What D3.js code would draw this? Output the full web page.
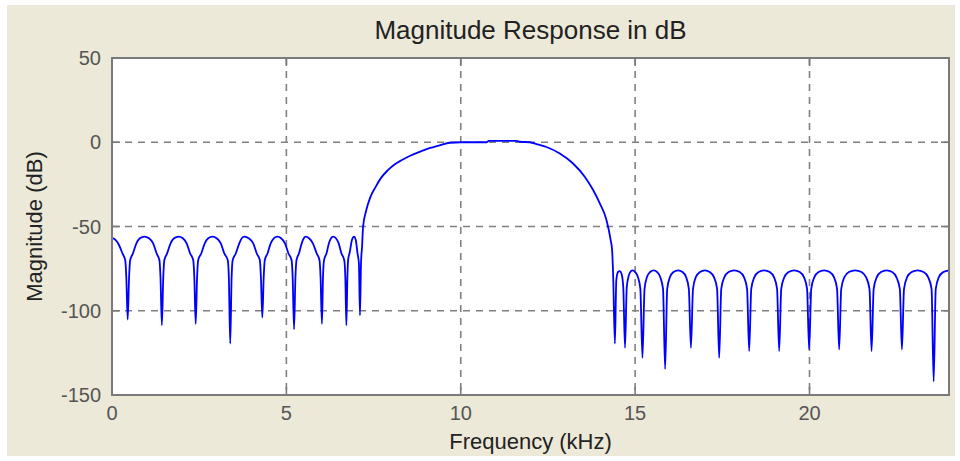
<!DOCTYPE html>
<html>
<head>
<meta charset="utf-8">
<script src="https://cdn.jsdelivr.net/npm/d3@7"></script>
<style>
body{margin:0;background:#fff;}
svg text{font-family:"Liberation Sans",Arial,sans-serif;}
</style>
</head>
<body>
<div id="root"></div>
<script>
// lower stopband (kHz, dB)
const lowFreq = [0.00,0.10,0.20,0.30,0.38,0.41,0.45,0.49,0.52,0.60,0.70,0.80,0.93,1.06,1.18,1.28,1.36,1.39,1.43,1.47,1.50,1.58,1.68,1.78,1.91,2.03,2.14,2.24,2.33,2.36,2.40,2.44,2.47,2.56,2.66,2.76,2.88,3.00,3.12,3.22,3.32,3.35,3.39,3.43,3.46,3.55,3.65,3.72,3.80,3.92,4.05,4.15,4.24,4.27,4.31,4.35,4.38,4.46,4.55,4.64,4.74,4.85,4.96,5.06,5.15,5.18,5.22,5.26,5.29,5.36,5.44,5.50,5.55,5.65,5.76,5.87,5.95,5.98,6.02,6.05,6.08,6.15,6.22,6.28,6.34,6.42,6.50,6.58,6.66,6.69,6.72,6.75,6.77,6.82,6.88,6.94,6.99,7.04,7.08,7.11,7.14];
const lowMag  = [-56.8,-58,-61,-66,-70,-80,-105.2,-80,-70,-66,-60,-57,-56,-57,-60,-66,-70,-80,-108.6,-80,-70,-66,-60,-57,-56,-57,-60,-66,-70,-80,-107.8,-80,-70,-66,-60,-57,-56,-57,-60,-66,-70,-80,-119.5,-80,-70,-66,-60,-57,-56,-57,-60,-66,-70,-80,-104,-80,-70,-66,-60,-57,-56,-57,-60,-66,-70,-80,-111,-80,-70,-66,-60,-57,-56,-57,-60,-66,-70,-80,-107.8,-80,-70,-66,-60,-57,-56,-57,-60,-66,-70,-80,-108.6,-80,-70,-65,-58,-56,-58,-66,-72,-102.7,-72];

// passband and transitions
const passFreq = [7.17,7.20,7.29,7.40,7.56,7.72,7.91,8.10,8.30,8.55,8.82,9.10,9.40,9.68,10.00,10.74,10.80,11.60,11.70,11.98,12.20,12.46,12.84,13.22,13.56,13.80,13.99,14.18,14.30,14.34,14.37];
const passMag  = [-62,-50,-40.4,-33,-26.5,-21,-16.6,-13.2,-10.7,-8,-5.7,-3.5,-1.8,-0.3,0,0,0.8,0.8,0.3,0,-1.2,-2.8,-6.7,-12.6,-20.6,-28.5,-36.4,-46.3,-58.2,-64,-79];

// upper stopband
const highFreq = [14.42,14.46,14.51,14.56,14.61,14.66,14.71,14.76,14.82,14.88,14.93,15.00,15.08,15.15,15.21,15.27,15.34,15.43,15.53,15.63,15.72,15.80,15.86,15.92,16.00,16.10,16.23,16.36,16.46,16.54,16.60,16.66,16.74,16.86,17.00,17.14,17.26,17.35,17.41,17.47,17.56,17.68,17.84,18.00,18.12,18.21,18.27,18.33,18.42,18.54,18.70,18.86,18.98,19.07,19.13,19.19,19.28,19.40,19.56,19.72,19.84,19.93,19.99,20.05,20.14,20.26,20.42,20.58,20.70,20.79,20.85,20.91,21.00,21.13,21.31,21.49,21.62,21.72,21.78,21.84,21.93,22.05,22.21,22.37,22.49,22.59,22.65,22.71,22.80,22.93,23.10,23.27,23.40,23.50,23.56,23.62,23.71,23.84,24.00];
const highMag  = [-119.5,-82,-77,-76.5,-78,-86,-122,-86,-79,-76.5,-76,-77,-80,-87,-128,-87,-80,-77,-76,-77,-80,-87,-134.7,-87,-80,-77,-76,-77,-80,-87,-122,-87,-80,-77,-76,-77,-80,-87,-128,-87,-80,-77,-76,-77,-80,-87,-124,-87,-80,-77,-76,-77,-80,-87,-124,-87,-80,-77,-76,-77,-80,-87,-123,-87,-80,-77,-76,-77,-80,-87,-123,-87,-80,-77,-76,-77,-80,-87,-124,-87,-80,-77,-76,-77,-80,-87,-123,-87,-80,-77,-76,-77,-80,-87,-142,-87,-80,-77,-76];

const xTicks = [0,5,10,15,20];
const yTicks = [50,0,-50,-100,-150];

const width = 960, height = 461;
const plot = {left:112, top:58, right:949, bottom:395};

const svg = d3.select('#root').append('svg')
              .attr('width',width)
              .attr('height',height);

svg.append('rect')
   .attr('x',7).attr('y',5)
   .attr('width',948).attr('height',451)
   .attr('fill','#ece9d8');

const x = d3.scaleLinear().domain([0,24]).range([plot.left,plot.right]);
const y = d3.scaleLinear().domain([-150,50]).range([plot.bottom,plot.top]);

svg.append('rect')
   .attr('x',plot.left).attr('y',plot.top)
   .attr('width',plot.right - plot.left)
   .attr('height',plot.bottom - plot.top)
   .attr('fill','#fff');

// grid
const grid = svg.append('g').attr('stroke','#808080').attr('stroke-width',1.6).attr('stroke-dasharray','7,6');
grid.selectAll('.gx')
    .data(xTicks.filter(d=>d>0)).enter()
    .append('line')
    .attr('x1',d=>x(d)).attr('x2',d=>x(d))
    .attr('y1',plot.top).attr('y2',plot.bottom);
grid.selectAll('.gy')
    .data(yTicks.filter(d=>d>-150 && d<50)).enter()
    .append('line')
    .attr('y1',d=>y(d)).attr('y2',d=>y(d))
    .attr('x1',plot.left).attr('x2',plot.right);

// curve
const pts = [];
lowFreq.forEach((f,i)=>pts.push([f,lowMag[i]]));
passFreq.forEach((f,i)=>pts.push([f,passMag[i]]));
highFreq.forEach((f,i)=>pts.push([f,highMag[i]]));

const line = d3.line()
               .x(d=>x(d[0]))
               .y(d=>y(d[1]))
               .curve(d3.curveMonotoneX);

svg.append('path')
   .datum(pts)
   .attr('d',line)
   .attr('fill','none')
   .attr('stroke','#0000ff')
   .attr('stroke-width',1.8);

// box
svg.append('rect')
   .attr('x',plot.left).attr('y',plot.top)
   .attr('width',plot.right - plot.left)
   .attr('height',plot.bottom - plot.top)
   .attr('fill','none')
   .attr('stroke','#7a7a7a')
   .attr('stroke-width',2);

// tick marks on all four sides
const tk = svg.append('g').attr('stroke','#7a7a7a').attr('stroke-width',1.6);
xTicks.forEach(d=>{
  tk.append('line').attr('x1',x(d)).attr('x2',x(d)).attr('y1',plot.bottom).attr('y2',plot.bottom-8);
  tk.append('line').attr('x1',x(d)).attr('x2',x(d)).attr('y1',plot.top).attr('y2',plot.top+8);
});
yTicks.forEach(d=>{
  tk.append('line').attr('y1',y(d)).attr('y2',y(d)).attr('x1',plot.left).attr('x2',plot.left+8);
  tk.append('line').attr('y1',y(d)).attr('y2',y(d)).attr('x1',plot.right).attr('x2',plot.right-8);
});

// tick labels
svg.append('g').selectAll('text')
   .data(xTicks).enter()
   .append('text')
   .attr('x',d=>x(d))
   .attr('y',plot.bottom+25)
   .attr('text-anchor','middle')
   .attr('fill','#555')
   .style('font-size','20px')
   .text(d=>d);
svg.append('g').selectAll('text')
   .data(yTicks).enter()
   .append('text')
   .attr('x',plot.left-11)
   .attr('y',d=>y(d)+7)
   .attr('text-anchor','end')
   .attr('fill','#555')
   .style('font-size','20px')
   .text(d=>d);

// labels
svg.append('text')
   .text('Magnitude Response in dB')
   .attr('x',(plot.left+plot.right)/2)
   .attr('y',39)
   .attr('text-anchor','middle')
   .attr('fill','#222')
   .style('font-size','26px');
svg.append('text')
   .text('Frequency (kHz)')
   .attr('x',(plot.left+plot.right)/2)
   .attr('y',449)
   .attr('text-anchor','middle')
   .attr('fill','#222')
   .style('font-size','22px');
svg.append('text')
   .text('Magnitude (dB)')
   .attr('transform',`translate(42,${(plot.top+plot.bottom)/2}) rotate(-90)`)
   .attr('text-anchor','middle')
   .attr('fill','#222')
   .style('font-size','22px');
</script>
</body>
</html>
